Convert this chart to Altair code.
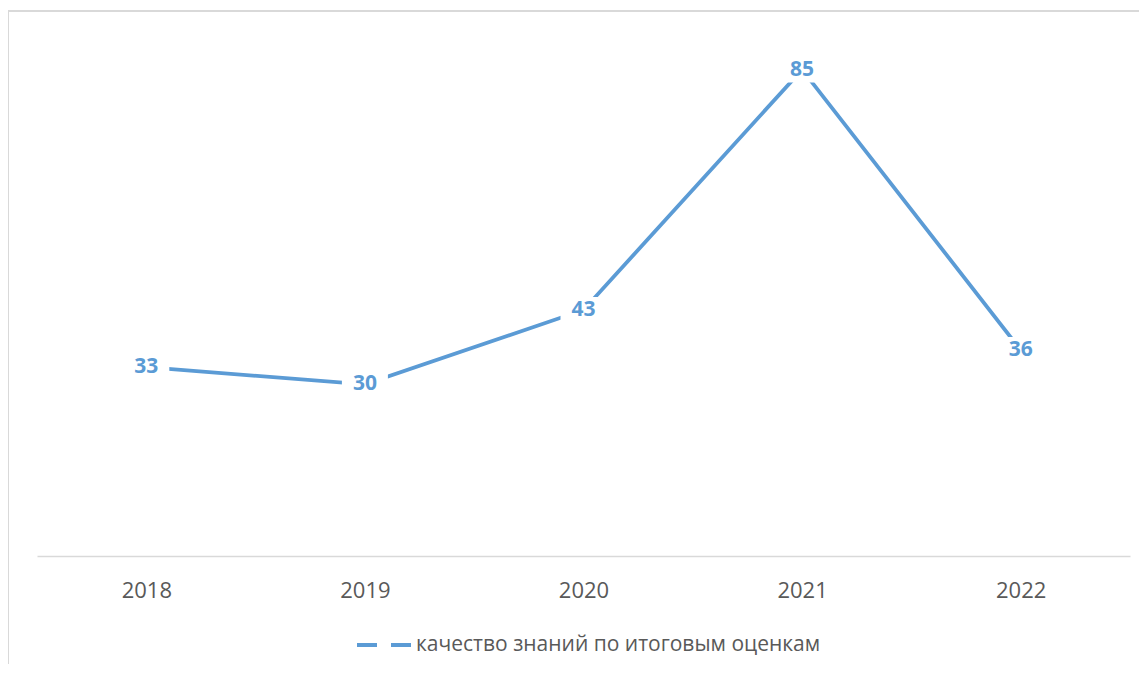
import altair as alt
import pandas as pd

years = ["2018", "2019", "2020", "2021", "2022"]
values = [33, 30, 43, 85, 36]
series_name = "качество знаний по итоговым оценкам"

df = pd.DataFrame({"year": years, "value": values, "series": [series_name] * len(years)})

BLUE = "#5B9BD5"
GRAY = "#595959"
FONT = "Open Sans"

W, H = 1093, 515
PAD = {"left": 29, "top": 33, "right": 9, "bottom": 108}

x_enc = alt.X(
    "year:N",
    sort=years,
    title=None,
    axis=alt.Axis(
        labelAngle=0,
        ticks=False,
        tickSize=0,
        grid=False,
        domainColor="#D9D9D9",
        domainWidth=1.5,
        labelFont=FONT,
        labelFontSize=22,
        labelColor=GRAY,
        labelPadding=24,
    ),
)
y_enc = alt.Y("value:Q", scale=alt.Scale(domain=[0, 90]), axis=None)

base = alt.Chart(df).encode(x=x_enc, y=y_enc)

line = base.mark_line(strokeWidth=3.8).encode(
    color=alt.Color(
        "series:N",
        scale=alt.Scale(range=[BLUE]),
        legend=alt.Legend(
            title=None,
            orient="none",
            legendX=318,
            legendY=575,
            padding=0,
            symbolType="stroke",
            symbolSize=2916,
            symbolStrokeWidth=3.8,
            symbolDash=[20, 14],
            symbolStrokeColor=BLUE,
            labelFont=FONT,
            labelFontSize=21,
            labelColor=GRAY,
            labelOffset=3,
            labelLimit=800,
        ),
    )
)

mask = base.mark_point(
    shape="M-1,-0.56L1,-0.56L1,0.56L-1,0.56Z",
    filled=True,
    fill="white",
    opacity=1,
    strokeWidth=0,
    size=2116,
)

labels = base.mark_text(
    font=FONT, fontSize=21, fontWeight="bold", color=BLUE, align="center", baseline="middle"
).encode(text="value:Q")

border_top = alt.Chart(df).mark_rule(color="#D9D9D9", strokeWidth=1.5).encode(
    x=alt.value(-29), x2=alt.value(W + PAD["right"]), y=alt.value(-30)
)
border_left = alt.Chart(df).mark_rule(color="#D9D9D9", strokeWidth=1.5).encode(
    x=alt.value(-29), y=alt.value(-30), y2=alt.value(H + PAD["bottom"])
)

chart = (
    alt.layer(border_top, border_left, line, mask, labels)
    .properties(
        width=W,
        height=H,
        padding=PAD,
        background="white",
        autosize=alt.AutoSizeParams(type="none"),
    )
    .configure_view(strokeWidth=0, stroke="transparent")
)

chart.save("out.html", embed_options={"renderer": "svg", "actions": False})
